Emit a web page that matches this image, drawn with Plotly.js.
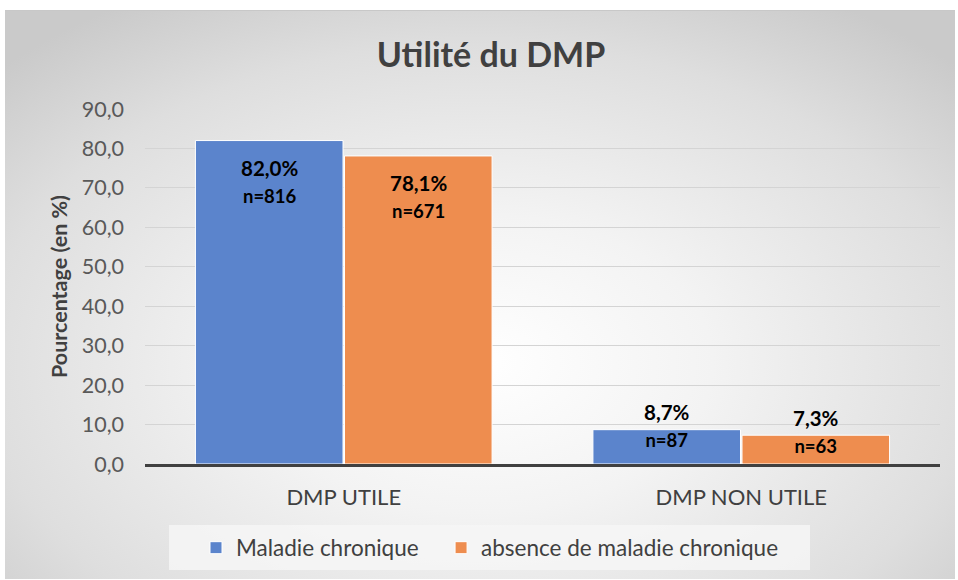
<!DOCTYPE html>
<html><head><meta charset="utf-8">
<script src="https://cdn.plot.ly/plotly-3.0.1.min.js"></script>
<style>
html,body{margin:0;padding:0;background:#fff;}
#bg{position:absolute;left:5px;top:10px;width:950px;height:568px;
background:radial-gradient(ellipse 70% 75% at 50% 62%, #ffffff 0%, #f3f3f3 35%, #dedede 75%, #cacaca 100%);
border-top:1px solid #c8c8c8;}
#legbox{position:absolute;left:169px;top:525px;width:641px;height:45px;background:rgba(246,246,246,0.8);}
#chart{position:absolute;left:0;top:0;width:958px;height:580px;}
</style></head>
<body>
<div id="bg"></div>
<div id="legbox"></div>
<div id="chart"></div>
<script>
const categories = ["DMP UTILE", "DMP NON UTILE"];
const seriesNames = ["Maladie chronique", "absence de maladie chronique"];
const chronique = [82.0, 8.7];
const absence = [78.1, 7.3];
const nChronique = [816, 87];
const nAbsence = [671, 63];
const yTicks = [0, 10, 20, 30, 40, 50, 60, 70, 80, 90];
const colors = ["#5B84CC", "#EE8D4F"];

function pct(v){ return v.toFixed(1).replace('.', ',') + '%'; }

const FONT = 'Lato, "Open Sans", sans-serif';

const traces = [
  {type:'bar', name:seriesNames[0], x:categories, y:chronique, legend:'legend', marker:{color:colors[0], line:{color:'#ffffff', width:1}}, hoverinfo:'none'},
  {type:'bar', name:seriesNames[1], x:categories, y:absence, legend:'legend2', marker:{color:colors[1], line:{color:'#ffffff', width:1}}, hoverinfo:'none'}
];

const annotations = [];
const series = [[chronique, nChronique, -0.188], [absence, nAbsence, 0.188]];
series.forEach(([vals, ns, off]) => {
  vals.forEach((v, i) => {
    const big = v > 20;
    annotations.push({
      x: i + off, y: v, xref:'x', yref:'y',
      text: '<b>' + pct(v) + '</b><br><b><span style="font-size:18.5px">n=' + ns[i] + '</span></b>',
      showarrow:false, align:'center',
      yanchor: big ? 'top' : 'middle',
      yshift: big ? -13 : 4,
      font:{family:FONT, size:20.5, color:'#000000'}
    });
  });
});

const legendBase = {orientation:'h', xref:'container', yref:'container', xanchor:'left', y:0.018, yanchor:'bottom',
  bgcolor:'rgba(0,0,0,0)', font:{size:22.5, color:'#404040'}};

const layout = {
  width:958, height:580,
  paper_bgcolor:'rgba(0,0,0,0)', plot_bgcolor:'rgba(0,0,0,0)',
  separators:', ',
  margin:{l:145, r:18, t:109, b:116},
  font:{family:FONT, color:'#595959'},
  title:{text:'<b>Utilité du DMP</b>', x:0.5125, xanchor:'center', y:0.905, yanchor:'middle',
    font:{size:34, color:'#404040', family:FONT}},
  barmode:'group', bargap:0.25, bargroupgap:0.01,
  xaxis:{type:'category', showgrid:false, showline:true, linecolor:'#404040', linewidth:3,
    ticks:'', tickfont:{size:22, color:'#404040'}, ticklabelstandoff:12},
  yaxis:{range:[0, 90], tickvals:yTicks, tickformat:'.1f', showgrid:true, gridcolor:'#d4d4d4', gridwidth:1,
    zeroline:false, showline:false, ticks:'', tickfont:{size:21.5, color:'#595959'}, ticklabelstandoff:20,
    title:{text:'<b>Pourcentage (en %)</b>', font:{size:21.5, color:'#404040'}, standoff:8}},
  showlegend:true,
  legend:Object.assign({}, legendBase, {x:0.2046}),
  legend2:Object.assign({}, legendBase, {x:0.4604}),
  annotations:annotations
};

Plotly.newPlot('chart', traces, layout, {displayModeBar:false, staticPlot:true});
</script>
</body></html>
